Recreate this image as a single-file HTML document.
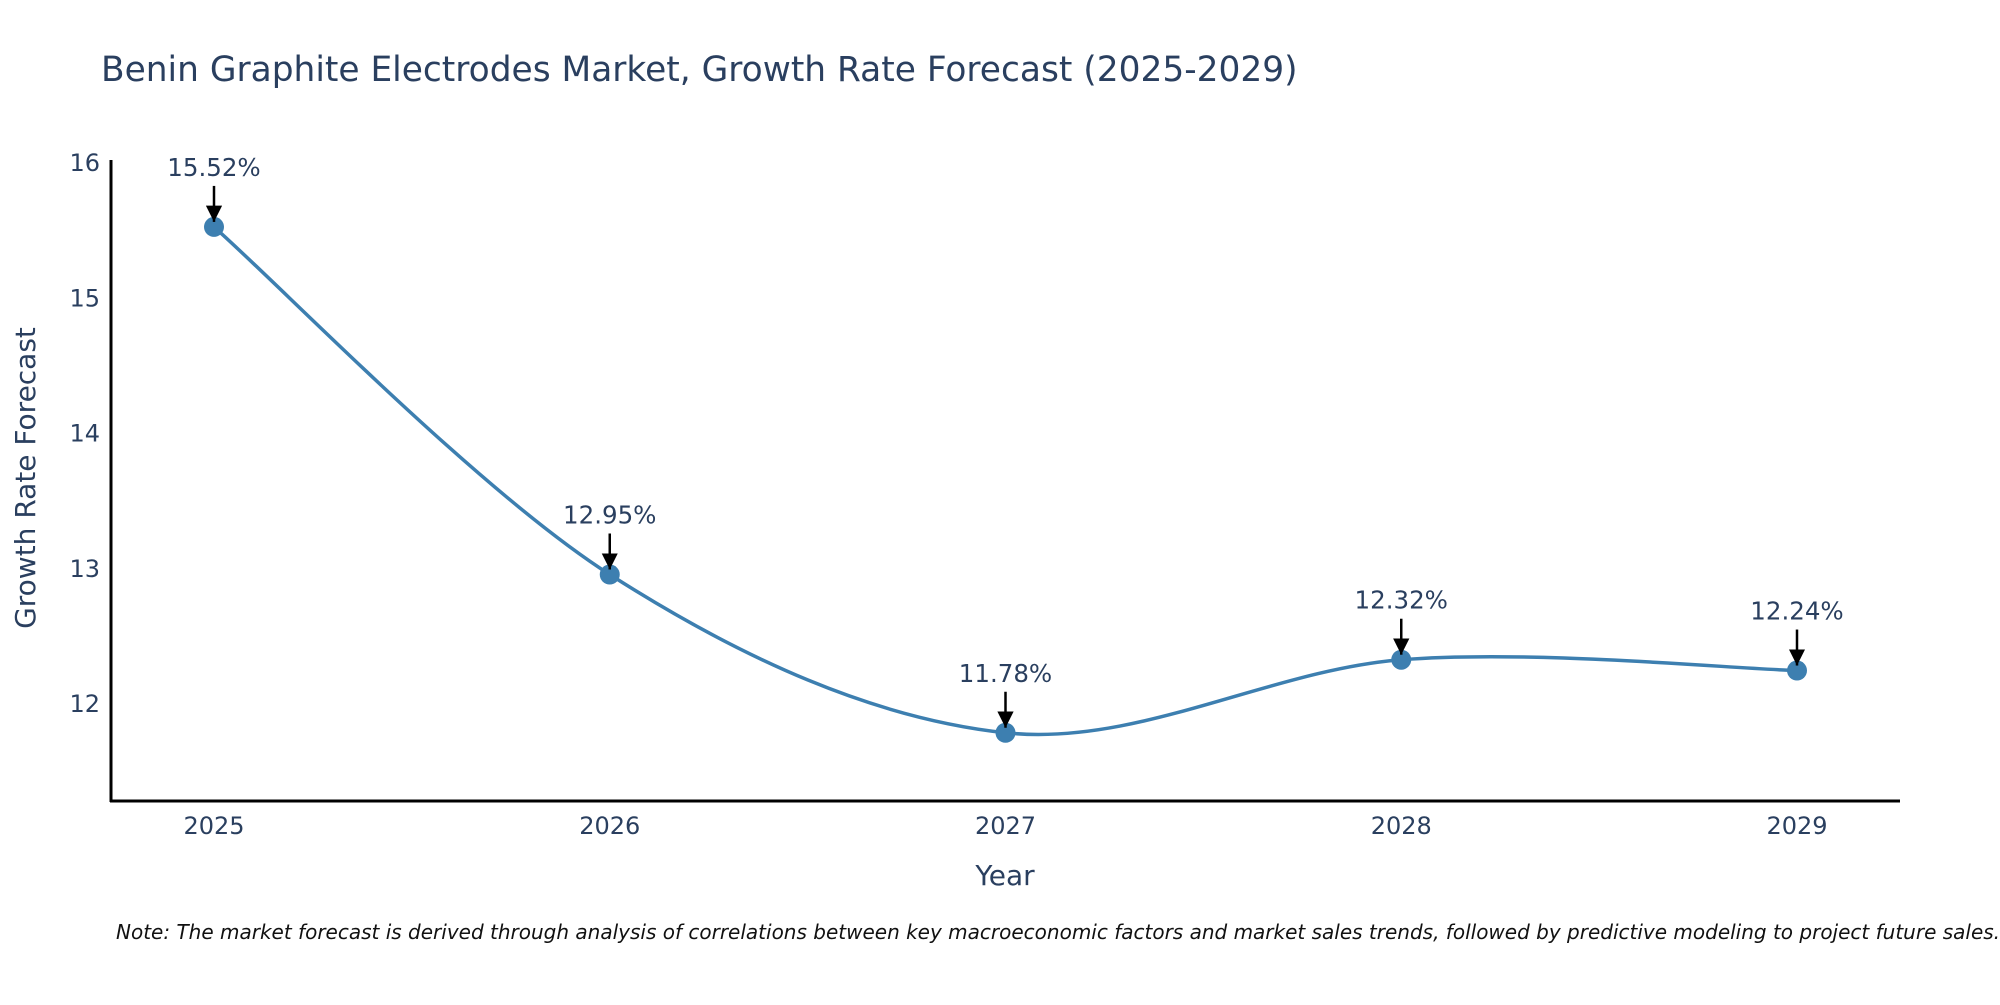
<!DOCTYPE html>
<html><head><meta charset="utf-8"><style>
body{margin:0;background:#fff;}
svg text{font-family:"DejaVu Sans","Liberation Sans",sans-serif;fill:#2a3f5f;}
</style></head><body>
<svg id="chart" width="2000" height="1000" viewBox="0 0 2000 1000" xmlns="http://www.w3.org/2000/svg">
<defs><marker id="ah" viewBox="0 0 10 10" refX="10" refY="5" markerWidth="6.5" markerHeight="6.5" markerUnits="strokeWidth" orient="auto"><path d="M0,0 L10,5 L0,10 z" fill="#000"/></marker></defs>
<text x="101" y="81" font-size="34.4">Benin Graphite Electrodes Market, Growth Rate Forecast (2025-2029)</text>
<g id="yticks"></g>
<g id="xticks"></g>
<line x1="111" y1="160" x2="111" y2="802" stroke="#000" stroke-width="3"/>
<line x1="110" y1="801" x2="1900" y2="801" stroke="#000" stroke-width="3"/>
<text transform="translate(35,478) rotate(-90)" text-anchor="middle" font-size="28">Growth Rate Forecast</text>
<text x="1005" y="885" text-anchor="middle" font-size="28">Year</text>
<g id="series"></g>
<g id="annots"></g>
<text x="116" y="939" font-size="20" font-style="italic" style="fill:#111">Note: The market forecast is derived through analysis of correlations between key macroeconomic factors and market sales trends, followed by predictive modeling to project future sales.</text>
</svg>
<script>
const years = ["2025","2026","2027","2028","2029"];
const values = [15.52, 12.95, 11.78, 12.32, 12.24];
const yTicks = [12, 13, 14, 15, 16];
const NS = "http://www.w3.org/2000/svg";
function xs(i){ return 214 + i * 395.75; }
function ys(v){ return 162 + (16 - v) * 135.25; }
function mk(tag, attrs, parent){ const e=document.createElementNS(NS,tag); for(const k in attrs) e.setAttribute(k,attrs[k]); parent.appendChild(e); return e; }
const yg=document.getElementById('yticks');
yTicks.forEach(t=>{
  const e=mk('text',{x:100,y:ys(t)+9,'text-anchor':'end','font-size':24},yg);
  e.textContent=t;
  
  
});
const xg=document.getElementById('xticks');
years.forEach((y,i)=>{
  const e=mk('text',{x:xs(i),y:834,'text-anchor':'middle','font-size':24},xg);
  e.textContent=y;
  
  
});
const pts=values.map((v,i)=>[xs(i),ys(v)]);
let d=`M${pts[0][0]},${pts[0][1]}`;
for(let i=0;i<pts.length-1;i++){
  const p0=pts[Math.max(0,i-1)],p1=pts[i],p2=pts[i+1],p3=pts[Math.min(pts.length-1,i+2)];
  const c1=[p1[0]+(p2[0]-p0[0])/6,p1[1]+(p2[1]-p0[1])/6];
  const c2=[p2[0]-(p3[0]-p1[0])/6,p2[1]-(p3[1]-p1[1])/6];
  d+=` C${c1[0]},${c1[1]} ${c2[0]},${c2[1]} ${p2[0]},${p2[1]}`;
}
const sg=document.getElementById('series');
const line=mk('path',{d:d,fill:'none',stroke:'#3d7fb0','stroke-width':3.5},sg);


const ag=document.getElementById('annots');
pts.forEach((p,i)=>{
  const c=mk('circle',{cx:p[0],cy:p[1],r:10,fill:'#3d7fb0'},sg);
  
  
  const a=mk('line',{x1:p[0],y1:p[1]-41,x2:p[0],y2:p[1]-5,stroke:'#000','stroke-width':2.5,'marker-end':'url(#ah)'},ag);
  
  
  const t=mk('text',{x:p[0],y:p[1]-51,'text-anchor':'middle','font-size':24.5},ag);
  t.textContent=values[i].toFixed(2)+'%';
  
  
});
</script>
</body></html>
